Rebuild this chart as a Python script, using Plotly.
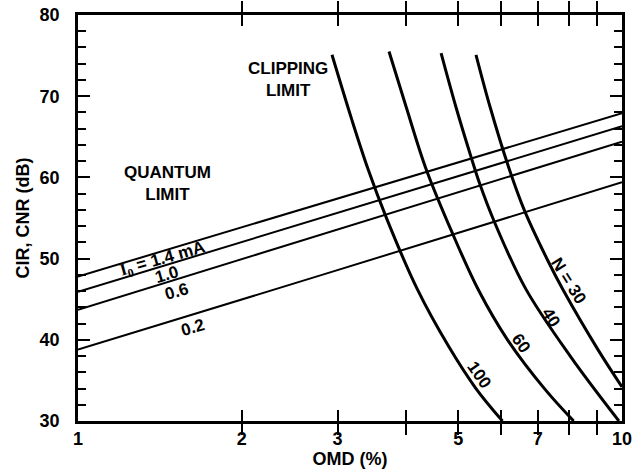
import numpy as np
import plotly.graph_objects as go

# quantum-limit lines (straight on log OMD axis), read at three OMD values
omd_q = [1.0, 2.78, 10.0]
cir_i14 = [47.8, 56.7, 67.9]
cir_i10 = [45.9, 55.0, 66.3]
cir_i06 = [43.7, 52.9, 64.4]
cir_i02 = [38.8, 47.9, 59.4]

# clipping-limit curves, one per channel count N
omd_n100 = [2.93, 3.18, 3.41, 3.70, 4.20, 4.80, 5.39, 6.03]
cir_n100 = [75.1, 67.3, 61.1, 54.8, 46.3, 39.2, 34.0, 30.0]
omd_n60 = [3.73, 4.01, 4.36, 4.88, 5.45, 6.16, 7.24, 8.15]
cir_n60 = [75.5, 68.7, 61.1, 53.1, 46.1, 40.0, 33.8, 30.0]
omd_n40 = [4.65, 4.95, 5.28, 5.47, 5.82, 6.65, 8.05, 9.87]
cir_n40 = [75.3, 68.7, 62.5, 59.3, 54.6, 46.3, 37.9, 30.0]
omd_n30 = [5.39, 5.72, 6.20, 6.61, 7.30, 7.80, 9.05, 10.0]
cir_n30 = [75.1, 68.7, 61.1, 56.0, 49.8, 46.1, 38.7, 34.2]

x_tickvals = [1, 2, 3, 4, 5, 6, 7, 8, 9, 10]
x_ticktext = ['1', '2', '3', '', '5', '', '7', '', '', '10']

FONT = 'Liberation Sans'

fig = go.Figure()

for cir in [cir_i14, cir_i10, cir_i06, cir_i02]:
    fig.add_trace(go.Scatter(x=omd_q, y=cir, mode='lines',
                             line=dict(color='black', width=2), hoverinfo='skip'))

for omd, cir in [(omd_n100, cir_n100), (omd_n60, cir_n60),
                 (omd_n40, cir_n40), (omd_n30, cir_n30)]:
    fig.add_trace(go.Scatter(x=omd, y=cir, mode='lines',
                             line=dict(color='black', width=3, shape='spline', smoothing=1.0),
                             hoverinfo='skip'))

# invisible trace so the right-hand tick axis gets drawn
fig.add_trace(go.Scatter(x=[1, 10], y=[30, 80], yaxis='y2', mode='markers',
                         marker=dict(opacity=0), hoverinfo='skip'))

# curve labels: (text, omd, cir, angle)
labels = [
    ("<span style='font-family:Liberation Serif'>I<sub>0</sub></span> = 1.4 mA", 1.43, 49.8, -16),
    ('1.0', 1.46, 48.0, -16),
    ('0.6', 1.52, 45.9, -16),
    ('0.2', 1.63, 41.5, -16),
    ('N = 30', 7.99, 47.2, 58),
    ('40', 7.41, 42.8, 58),
    ('60', 6.53, 39.6, 55),
    ('100', 5.45, 35.7, 55),
    ('CLIPPING<br>LIMIT', 2.43, 72.0, 0),
    ('QUANTUM<br>LIMIT', 1.46, 59.2, 0),
]
for text, xv, yv, ang in labels:
    fig.add_annotation(x=np.log10(xv), y=yv, xref='x', yref='y', text=text,
                       showarrow=False, textangle=ang,
                       font=dict(family=FONT, size=17, color='black', weight='bold'))

axis_font = dict(family=FONT, size=18, color='black', weight='bold')

fig.update_xaxes(type='log', range=[0, 1], tickmode='array',
                 tickvals=x_tickvals, ticktext=x_ticktext,
                 ticks='inside', ticklen=11, tickwidth=2, tickcolor='black',
                 showline=True, linewidth=2.5, linecolor='black', mirror='allticks',
                 showgrid=False, zeroline=False, tickfont=axis_font, automargin=False,
                 title=dict(text='OMD (%)', font=axis_font, standoff=0))

y_ticks = dict(range=[30, 80], tick0=30, dtick=10,
               ticks='inside', ticklen=12, tickwidth=2, tickcolor='black',
               minor=dict(dtick=2, tick0=30, ticks='inside', ticklen=8,
                          tickwidth=2, tickcolor='black'),
               showline=True, linewidth=2.5, linecolor='black',
               showgrid=False, zeroline=False, automargin=False)

fig.update_layout(
    yaxis=dict(**y_ticks, mirror=True, tickfont=axis_font, ticklabelstandoff=12,
               title=dict(text='CIR, CNR (dB)', font=axis_font, standoff=6)),
    yaxis2=dict(**y_ticks, overlaying='y', side='right', showticklabels=False),
    width=640, height=472, showlegend=False,
    plot_bgcolor='white', paper_bgcolor='white',
    margin=dict(l=78, r=18, t=15, b=51))

# the page body has a default margin; drop it so the figure fills the window
fig.write_html("out.html", config={'displayModeBar': False},
               post_script="document.body.style.margin='0';")
